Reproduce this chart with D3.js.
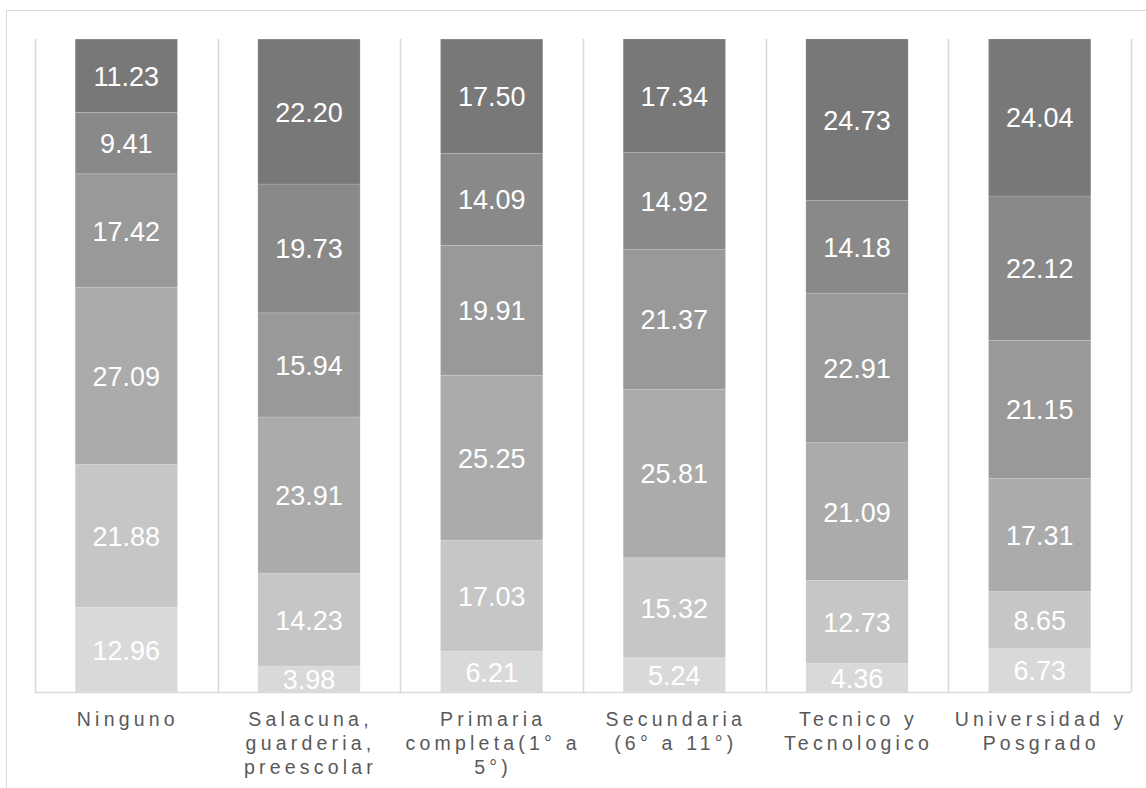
<!DOCTYPE html>
<html>
<head>
<meta charset="utf-8">
<script src="https://cdn.jsdelivr.net/npm/d3@7"></script>
<style>
  html, body { margin: 0; padding: 0; background: #ffffff; }
  svg { display: block; }
</style>
</head>
<body>
<svg id="chart" width="1146" height="788"></svg>
<script>
// Education level categories (x axis)
const categories = [
  "Ninguno",
  "Salacuna, guarderia, preescolar",
  "Primaria completa(1° a 5°)",
  "Secundaria (6° a 11°)",
  "Tecnico y Tecnologico",
  "Universidad y Posgrado"
];

// Tick label lines, as wrapped under each bar
const tickLines = [
  ["Ninguno"],
  ["Salacuna,", "guarderia,", "preescolar"],
  ["Primaria", "completa(1° a", "5°)"],
  ["Secundaria", "(6° a 11°)"],
  ["Tecnico y", "Tecnologico"],
  ["Universidad y", "Posgrado"]
];

// Percentage share of each stacked segment, bottom to top
const serie1 = [12.96, 3.98, 6.21, 5.24, 4.36, 6.73];
const serie2 = [21.88, 14.23, 17.03, 15.32, 12.73, 8.65];
const serie3 = [27.09, 23.91, 25.25, 25.81, 21.09, 17.31];
const serie4 = [17.42, 15.94, 19.91, 21.37, 22.91, 21.15];
const serie5 = [9.41, 19.73, 14.09, 14.92, 14.18, 22.12];
const serie6 = [11.23, 22.20, 17.50, 17.34, 24.73, 24.04];

const seriesKeys = ["s1", "s2", "s3", "s4", "s5", "s6"];
const seriesColors = ["#d9d9d9", "#c6c6c6", "#ababab", "#999999", "#898989", "#787878"];

const rows = categories.map((c, i) => ({
  cat: c,
  s1: serie1[i], s2: serie2[i], s3: serie3[i],
  s4: serie4[i], s5: serie5[i], s6: serie6[i]
}));

const svg = d3.select("#chart");

// Outer chart frame
svg.append("rect")
  .attr("x", 6.5).attr("y", 10.5)
  .attr("width", 1180).attr("height", 820)
  .attr("fill", "none")
  .attr("stroke", "#d9d9d9")
  .attr("stroke-width", 1);

const plot = { left: 35, right: 1131, top: 39, bottom: 692 };

const x = d3.scaleBand()
  .domain(categories)
  .range([plot.left, plot.right])
  .paddingInner(0.44)
  .paddingOuter(0.22);

const y = d3.scaleLinear()
  .domain([0, 100])
  .range([plot.bottom, plot.top]);

const stacked = d3.stack().keys(seriesKeys)(rows);

// Category separators
const step = (plot.right - plot.left) / categories.length;
const seps = d3.range(categories.length + 1).map(i => plot.left + i * step);
svg.append("g").selectAll("line")
  .data(seps)
  .join("line")
  .attr("x1", d => Math.round(d) + 0.5)
  .attr("x2", d => Math.round(d) + 0.5)
  .attr("y1", y(100))
  .attr("y2", y(0))
  .attr("stroke", "#d9d9d9")
  .attr("stroke-width", 1.5);

// Stacked bars
const layers = svg.append("g").selectAll("g")
  .data(stacked)
  .join("g")
  .attr("fill", (d, i) => seriesColors[i]);

layers.selectAll("rect")
  .data(d => d.map(v => ({ v, cat: v.data.cat })))
  .join("rect")
  .attr("x", d => x(d.cat))
  .attr("width", x.bandwidth())
  .attr("y", d => y(d.v[1]))
  .attr("height", d => y(d.v[0]) - y(d.v[1]))
  .attr("stroke", "rgba(255,255,255,0.18)")
  .attr("stroke-width", 0.8);

// Value labels
layers.selectAll("text")
  .data(d => d.map(v => ({ v, cat: v.data.cat })))
  .join("text")
  .attr("x", d => x(d.cat) + x.bandwidth() / 2)
  .attr("y", d => (y(d.v[0]) + y(d.v[1])) / 2)
  .attr("dy", "0.37em")
  .attr("text-anchor", "middle")
  .attr("fill", "#ffffff")
  .attr("font-family", "'Liberation Sans', Arial, sans-serif")
  .attr("font-size", "27px")
  .text(d => (d.v[1] - d.v[0]).toFixed(2));

// Bottom axis
const xAxis = d3.axisBottom(x).tickSize(0).tickPadding(0);
const axisG = svg.append("g")
  .attr("transform", `translate(0,${plot.bottom})`)
  .call(xAxis);
axisG.select(".domain")
  .attr("d", `M${plot.left},0.5H${plot.right}`)
  .attr("stroke", "#d9d9d9")
  .attr("stroke-width", 1.5);

const lineH = 24;
axisG.selectAll(".tick text")
  .attr("dy", null)
  .attr("y", null)
  .attr("font-family", "'Liberation Sans', Arial, sans-serif")
  .attr("font-size", "19.5px")
  .attr("letter-spacing", "4.2px")
  .attr("fill", "#595959")
  .each(function (d, i) {
    const t = d3.select(this);
    t.text(null);
    tickLines[i].forEach((l, j) => {
      t.append("tspan")
        .attr("x", 1.5)
        .attr("y", 34 + j * lineH)
        .text(l);
    });
  });
</script>
</body>
</html>
